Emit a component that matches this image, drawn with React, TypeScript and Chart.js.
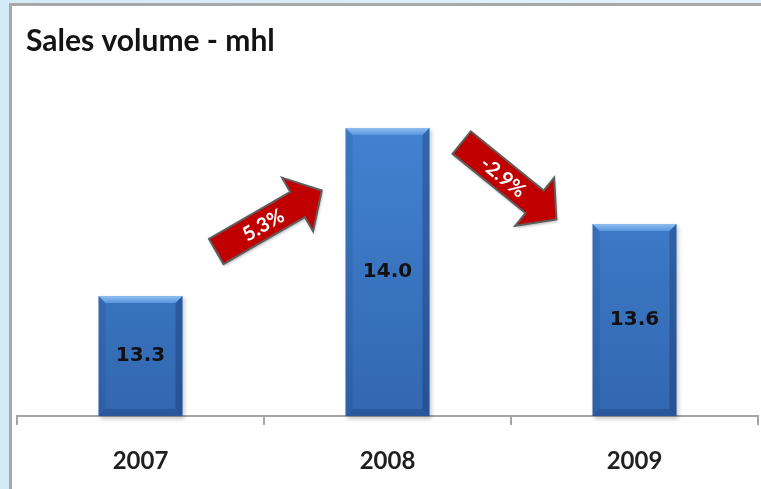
import React, { useEffect, useRef } from "react";
import { Chart, registerables } from "chart.js";

Chart.register(...registerables);

const titleText = "Sales volume - mhl";
const categories = ["2007", "2008", "2009"];
const salesVolume = [13.3, 14.0, 13.6];
const changeLabels = ["5.3%", "-2.9%"];
const yMin = 12.8;
const yMax = 14.3;

const drawArrow = (ctx: CanvasRenderingContext2D, cx: number, cy: number, angle: number, label: string) => {
  const L = 61;
  const hb = 33;
  const sw = 14.5;
  const hw = 31;
  ctx.save();
  ctx.translate(cx, cy);
  ctx.rotate(angle);
  ctx.beginPath();
  ctx.moveTo(-L, -sw);
  ctx.lineTo(hb, -sw);
  ctx.lineTo(hb, -hw);
  ctx.lineTo(L, 0);
  ctx.lineTo(hb, hw);
  ctx.lineTo(hb, sw);
  ctx.lineTo(-L, sw);
  ctx.closePath();
  ctx.shadowColor = "rgba(0,0,0,0.3)";
  ctx.shadowBlur = 3;
  ctx.shadowOffsetX = 1;
  ctx.shadowOffsetY = 2;
  ctx.fillStyle = "#c00000";
  ctx.fill();
  ctx.shadowColor = "transparent";
  ctx.lineWidth = 2;
  ctx.strokeStyle = "#5e5e5e";
  ctx.lineJoin = "miter";
  ctx.stroke();
  ctx.fillStyle = "#ffffff";
  ctx.font = "bold 20px Lato";
  ctx.textAlign = "center";
  ctx.textBaseline = "middle";
  ctx.fillText(label, -7, 1);
  ctx.restore();
};

const barBox = (chart: any, bar: any) => {
  const { x, y, base, width } = bar.getProps(["x", "y", "base", "width"], true);
  const bottom = Math.min(base, chart.chartArea.bottom);
  return { x, y, bottom, width, l: x - width / 2, r: x + width / 2 };
};

const decorPlugin = {
  id: "decor",
  beforeDatasetsDraw(chart: any) {
    const ctx = chart.ctx as CanvasRenderingContext2D;
    const meta = chart.getDatasetMeta(0);
    meta.data.forEach((bar: any) => {
      const { y, bottom, width, l } = barBox(chart, bar);
      ctx.save();
      ctx.fillStyle = "rgba(0,0,0,0.22)";
      ctx.filter = "blur(2px)";
      ctx.fillRect(l + 2, y + 2, width, bottom - y + 1);
      ctx.restore();
    });
  },
  afterDatasetsDraw(chart: any) {
    const ctx = chart.ctx as CanvasRenderingContext2D;
    const meta = chart.getDatasetMeta(0);
    meta.data.forEach((bar: any, i: number) => {
      const { x, y, bottom, l, r } = barBox(chart, bar);
      const base = bottom;
      const b = 7;
      ctx.save();
      const tg = ctx.createLinearGradient(0, y, 0, y + b);
      tg.addColorStop(0, "#8fbdf0");
      tg.addColorStop(1, "#5a97e0");
      ctx.fillStyle = tg;
      ctx.beginPath();
      ctx.moveTo(l, y);
      ctx.lineTo(r, y);
      ctx.lineTo(r - b, y + b);
      ctx.lineTo(l + b, y + b);
      ctx.closePath();
      ctx.fill();
      ctx.fillStyle = "rgba(10,30,80,0.10)";
      ctx.beginPath();
      ctx.moveTo(l, y);
      ctx.lineTo(l + b, y + b);
      ctx.lineTo(l + b, base - b);
      ctx.lineTo(l, base);
      ctx.closePath();
      ctx.fill();
      ctx.fillStyle = "rgba(10,30,80,0.28)";
      ctx.beginPath();
      ctx.moveTo(r, y);
      ctx.lineTo(r - b, y + b);
      ctx.lineTo(r - b, base - b);
      ctx.lineTo(r, base);
      ctx.closePath();
      ctx.fill();
      ctx.fillStyle = "rgba(10,30,80,0.22)";
      ctx.beginPath();
      ctx.moveTo(l, base);
      ctx.lineTo(l + b, base - b);
      ctx.lineTo(r - b, base - b);
      ctx.lineTo(r, base);
      ctx.closePath();
      ctx.fill();
      ctx.fillStyle = "#111111";
      ctx.font = "bold 20px 'DejaVu Sans'";
      ctx.textAlign = "center";
      ctx.textBaseline = "middle";
      ctx.fillText(salesVolume[i].toFixed(1), x, (y + base) / 2);
      ctx.restore();
    });
  },
  afterDraw(chart: any) {
    const ctx = chart.ctx as CanvasRenderingContext2D;
    ctx.save();
    ctx.fillStyle = "#141414";
    ctx.font = "bold 30px Lato";
    ctx.textAlign = "left";
    ctx.textBaseline = "alphabetic";
    ctx.fillText(titleText, 26, 51);
    ctx.restore();
    const meta = chart.getDatasetMeta(0);
    for (let i = 0; i < changeLabels.length; i++) {
      const a = meta.data[i];
      const c = meta.data[i + 1];
      if (!a || !c) continue;
      const up = salesVolume[i + 1] >= salesVolume[i];
      const cx = (a.x + c.x) / 2 + (up ? 5 : -2);
      const cy = (a.y + c.y) / 2 + (up ? 9 : 5);
      const angle = up ? (-30 * Math.PI) / 180 : (39 * Math.PI) / 180;
      drawArrow(ctx, cx, cy, angle, changeLabels[i]);
    }
  },
};

export default function App() {
  const ref = useRef<HTMLCanvasElement | null>(null);
  useEffect(() => {
    if (!ref.current) return;
    const chart = new Chart(ref.current, {
      type: "bar",
      data: {
        labels: categories,
        datasets: [
          {
            data: salesVolume,
            backgroundColor: (c: any) => {
              const area = c.chart.chartArea;
              if (!area) return "#3f7fcf";
              const g = c.chart.ctx.createLinearGradient(0, area.top, 0, area.bottom);
              g.addColorStop(0, "#4689d9");
              g.addColorStop(1, "#3267b0");
              return g;
            },
            borderWidth: 0,
            barPercentage: 0.34,
            categoryPercentage: 1,
          },
        ],
      },
      options: {
        responsive: false,
        animation: false,
        devicePixelRatio: 1,
        layout: { padding: { left: 17, right: 3, top: 56, bottom: 15 } },
        plugins: { legend: { display: false }, tooltip: { enabled: false }, title: { display: false } },
        scales: {
          x: {
            offset: true,
            afterFit: (scale: any) => {
              scale.height = 58;
            },
            grid: {
              display: true,
              offset: true,
              drawOnChartArea: false,
              drawTicks: true,
              tickLength: 9,
              color: "#a6a6a6",
              lineWidth: 2,
            },
            border: { display: true, color: "#a6a6a6", width: 2 },
            ticks: {
              color: "#1f1f1f",
              padding: 22,
              font: { family: "Lato", size: 24, weight: "bold" },
            },
          },
          y: { display: false, min: yMin, max: yMax },
        },
      },
      plugins: [decorPlugin],
    });
    return () => chart.destroy();
  }, []);

  return (
    <div
      style={{
        position: "fixed",
        left: 0,
        top: 0,
        width: 761,
        height: 489,
        overflow: "hidden",
        background: "linear-gradient(90deg, #d3ebf8, #e4f3fb)",
      }}
    >
      <div
        style={{
          position: "absolute",
          left: 9,
          top: 3,
          width: 800,
          height: 520,
          background: "#ffffff",
          borderLeft: "3px solid #a8a8a8",
          borderTop: "3px solid #a8a8a8",
        }}
      />
      <canvas
        ref={ref}
        width={761}
        height={489}
        style={{ position: "absolute", left: 0, top: 0, width: 761, height: 489 }}
      />
    </div>
  );
}
